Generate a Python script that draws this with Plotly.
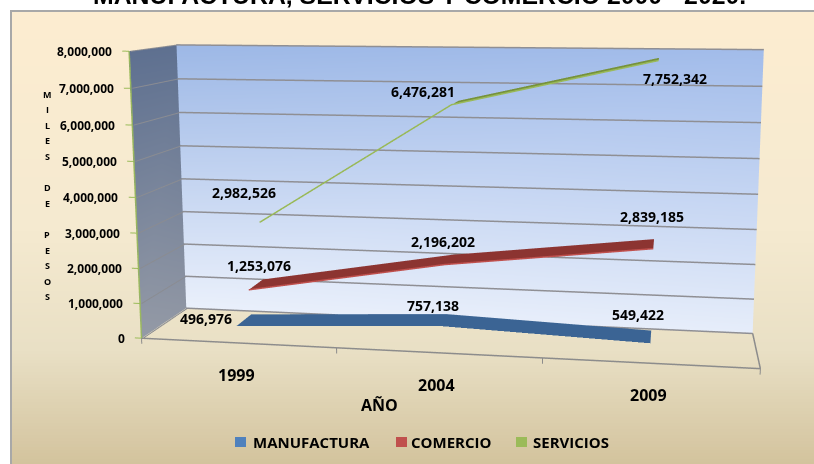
import numpy as np
import plotly.graph_objects as go

YEARS = [1999, 2004, 2009]
SERIES_NAMES = ["MANUFACTURA", "COMERCIO", "SERVICIOS"]
MANUFACTURA = [496976, 757138, 549422]
COMERCIO = [1253076, 2196202, 2839185]
SERVICIOS = [2982526, 6476281, 7752342]
VALUE_TICKS = [0, 1000000, 2000000, 3000000, 4000000, 5000000, 6000000, 7000000, 8000000]

SERIES = [MANUFACTURA, COMERCIO, SERVICIOS]
FILL = ["#3b6494", "#8c3431", "#76923c"]
EDGE = ["#4f81bd", "#c0504d", "#9bbb59"]
DEPTH = [1 / 6, 1 / 2, 5 / 6]
RIBBON = 0.19

# Page geometry: the canvas is larger than the window so the camera's
# principal point and focal length suit the narrow field of view.
FIG_W, FIG_H, TOP = 904, 1053, 334
Z_MAX = 8000000
X_LO, X_HI = -0.05, 3.03
Y_LO, Y_HI = -0.01, 1.01
Z_LO, Z_HI = -200000, 8080000

ASPECT = np.array([2.111, 0.419, 1.0])
EYE = np.array([0.75, -4.264, 0.741])
CENTER = np.array([0.012, -0.001, 0.012])
UP = np.array([0.107, -0.612, 1.0])


def to_px(x, y, z):
    """Window pixel of a scene point, used to offset the labels."""
    p = (np.array([x / 3, y, z / Z_MAX]) - 0.5) * ASPECT
    f = CENTER - EYE
    f = f / np.linalg.norm(f)
    s = np.cross(f, UP)
    s = s / np.linalg.norm(s)
    u = np.cross(s, f)
    d = p - EYE
    foc = (FIG_H / 2) / np.tan(np.pi / 8)
    return FIG_W / 2 + foc * (d @ s) / (d @ f), FIG_H / 2 - TOP - foc * (d @ u) / (d @ f)


def px_x(x):
    return x / FIG_W


def px_y(y):
    return 1 - (y + TOP) / FIG_H


fig = go.Figure()
FLAT = dict(ambient=1, diffuse=0, specular=0, roughness=1, fresnel=0)

# Walls
fig.add_trace(go.Mesh3d(
    x=[0, 3, 3, 0], y=[1, 1, 1, 1], z=[0, 0, Z_MAX, Z_MAX],
    i=[0, 0], j=[1, 2], k=[2, 3],
    vertexcolor=["#eaf0fb", "#e6edfa", "#a2bcea", "#9db8e6"],
    lighting=FLAT, hoverinfo="skip", showscale=False))
fig.add_trace(go.Mesh3d(
    x=[0, 0, 0, 0], y=[0, 1, 1, 0], z=[0, 0, Z_MAX, Z_MAX],
    i=[0, 0], j=[1, 2], k=[2, 3],
    vertexcolor=["#949aa6", "#8e95a3", "#5e7090", "#5e7090"],
    lighting=FLAT, hoverinfo="skip", showscale=False))


def line(xs, ys, zs, color, width):
    fig.add_trace(go.Scatter3d(x=xs, y=ys, z=zs, mode="lines",
                               line=dict(color=color, width=width),
                               hoverinfo="skip", showlegend=False))


# Gridlines on the back and side walls
for v in VALUE_TICKS:
    line([0, 3], [0.995, 0.995], [v, v], "#8f8f94", 3)
    line([0.008, 0.008], [0, 1], [v, v], "#8a8c92", 2)
    line([X_LO * 0.7, 0], [0, 0], [v, v], "#9bbb59", 2)

# Floor outline, category ticks and value axis
line([0, 3, 3], [0, 0, 1], [0, 0, 0], "#8c8c8c", 3)
for k in range(4):
    line([k, k], [0, 0], [Z_LO * 0.8, 0], "#8c8c8c", 2)
line([0, 0], [0, 0], [0, Z_MAX], "#9bbb59", 3)

# Ribbons, one band per series
xs_cat = [0.5, 1.5, 2.5]
for vals, d, fill, edge, name in zip(SERIES, DEPTH, FILL, EDGE, SERIES_NAMES):
    vx, vy, vz = [], [], []
    for xc, v in zip(xs_cat, vals):
        vx += [xc, xc]
        vy += [d - RIBBON, d + RIBBON]
        vz += [v, v]
    fig.add_trace(go.Mesh3d(
        x=vx, y=vy, z=vz, i=[0, 1, 2, 3], j=[1, 2, 3, 4], k=[2, 3, 4, 5],
        color=fill, name=name, flatshading=True,
        lighting=FLAT, hoverinfo="skip", showscale=False))
    line(xs_cat, [d - RIBBON] * 3, vals, edge, 3)

ann3d = []
FONT = "Open Sans, Arial, sans-serif"


def scene_label(x, y, z, text, cx, cy, size):
    px, py = to_px(x, y, z)
    ann3d.append(dict(x=x, y=y, z=z, text=text, showarrow=False, xanchor="center", yanchor="middle",
                      xshift=cx - px, yshift=py - cy,
                      font=dict(family=FONT, size=size, color="#000000")))


# Value labels, placed in screen space beside their marks
label_centers = [
    [(206, 318), (433, 305), (638, 315)],
    [(259, 265), (443, 241), (652, 216)],
    [(244, 192), (423, 91), (675, 78)],
]
for vals, d, centers in zip(SERIES, DEPTH, label_centers):
    for xc, v, (cx, cy) in zip(xs_cat, vals, centers):
        scene_label(xc, d, v, f"<b>{v:,}</b>", cx, cy, 14)

# Value axis tick labels
for v in VALUE_TICKS:
    ann3d.append(dict(x=0, y=0, z=v, text=f"<b>{v:,}</b>", showarrow=False, xanchor="right", yanchor="middle",
                      xshift=-15, yshift=0, font=dict(family=FONT, size=12, color="#000000")))

# Category labels
for xc, yr, (cx, cy) in zip(xs_cat, YEARS, [(236, 375), (436, 385), (648, 395)]):
    scene_label(xc, 0, 0, f"<b>{yr}</b>", cx, cy, 16)

paper_notes = []


def note(x, y, text, size, anchor="center", family=FONT):
    paper_notes.append(dict(xref="paper", yref="paper", x=px_x(x), y=px_y(y), text=f"<b>{text}</b>",
                            showarrow=False, xanchor=anchor, yanchor="middle",
                            font=dict(family=family, size=size, color="#000000")))


note(419, -4, "MANUFACTURA, SERVICIOS Y COMERCIO 2000 - 2020.", 24.8, family="Liberation Sans, Arial, sans-serif")
note(379, 405, "AÑO", 16)
for n, ch in enumerate("MILES DE PESOS"):
    if ch != " ":
        note(47, 94 + 15.6 * n, ch, 9)
for name, tx in zip(SERIES_NAMES, [251, 409, 531]):
    note(tx, 442, name, 15, anchor="left")

# Page background: white surround, framed panel with vertical gradient
stops = [(10, (253, 237, 208)), (230, (245, 234, 208)), (350, (233, 224, 197)), (464, (211, 195, 157))]
ypos = [s[0] for s in stops]
shapes = [dict(type="rect", xref="paper", yref="paper", x0=px_x(10), x1=1, y0=px_y(10), y1=px_y(480),
               fillcolor="#a8a8a8", line_width=0, layer="below")]
for top in range(12, 480, 3):
    col = [int(np.interp(top, ypos, [s[1][c] for s in stops])) for c in range(3)]
    shapes.append(dict(type="rect", xref="paper", yref="paper", x0=px_x(12), x1=1, y0=px_y(top + 3.5), y1=px_y(top),
                       fillcolor=f"rgb({col[0]},{col[1]},{col[2]})", line_width=0, layer="below"))
for sq, color in zip([235, 396, 516], EDGE):
    shapes.append(dict(type="rect", xref="paper", yref="paper", x0=px_x(sq), x1=px_x(sq + 11), y0=px_y(447), y1=px_y(437),
                       fillcolor=color, line_width=0, layer="above"))

# Scene ranges carry a little padding; the camera follows the shift
u_lo = np.array([X_LO / 3, Y_LO, Z_LO / Z_MAX])
u_hi = np.array([X_HI / 3, Y_HI, Z_HI / Z_MAX])
mid = (u_lo + u_hi) / 2
shift = (mid - 0.5) * ASPECT
asp = ASPECT * (u_hi - u_lo)
eye = EYE - shift
cen = CENTER - shift


def vec(a):
    return dict(x=float(a[0]), y=float(a[1]), z=float(a[2]))


hidden = dict(visible=False, showgrid=False, zeroline=False, showline=False, showticklabels=False,
              showbackground=False, showspikes=False, autorange=False)

fig.update_layout(
    width=FIG_W, height=FIG_H, autosize=False,
    margin=dict(l=0, r=0, t=0, b=0, pad=0),
    paper_bgcolor="#ffffff", showlegend=False, hovermode=False,
    shapes=shapes, annotations=paper_notes,
    scene=dict(
        domain=dict(x=[0, 1], y=[0, 1]),
        bgcolor="rgba(0,0,0,0)",
        xaxis=dict(range=[X_LO, X_HI], **hidden),
        yaxis=dict(range=[Y_LO, Y_HI], **hidden),
        zaxis=dict(range=[Z_LO, Z_HI], **hidden),
        aspectmode="manual", aspectratio=vec(asp),
        camera=dict(eye=vec(eye), center=vec(cen), up=vec(UP), projection=dict(type="perspective")),
        annotations=ann3d,
    ),
)

fig.write_html(
    "out.html", default_width=FIG_W, default_height=FIG_H,
    config=dict(displayModeBar=False, responsive=False),
    post_script=(
        "var gd=document.getElementById('{plot_id}');"
        "gd.style.position='absolute';gd.style.left='0';gd.style.top='-%dpx';"
        "document.documentElement.style.overflow='hidden';document.body.style.overflow='hidden';" % TOP
    ),
)
